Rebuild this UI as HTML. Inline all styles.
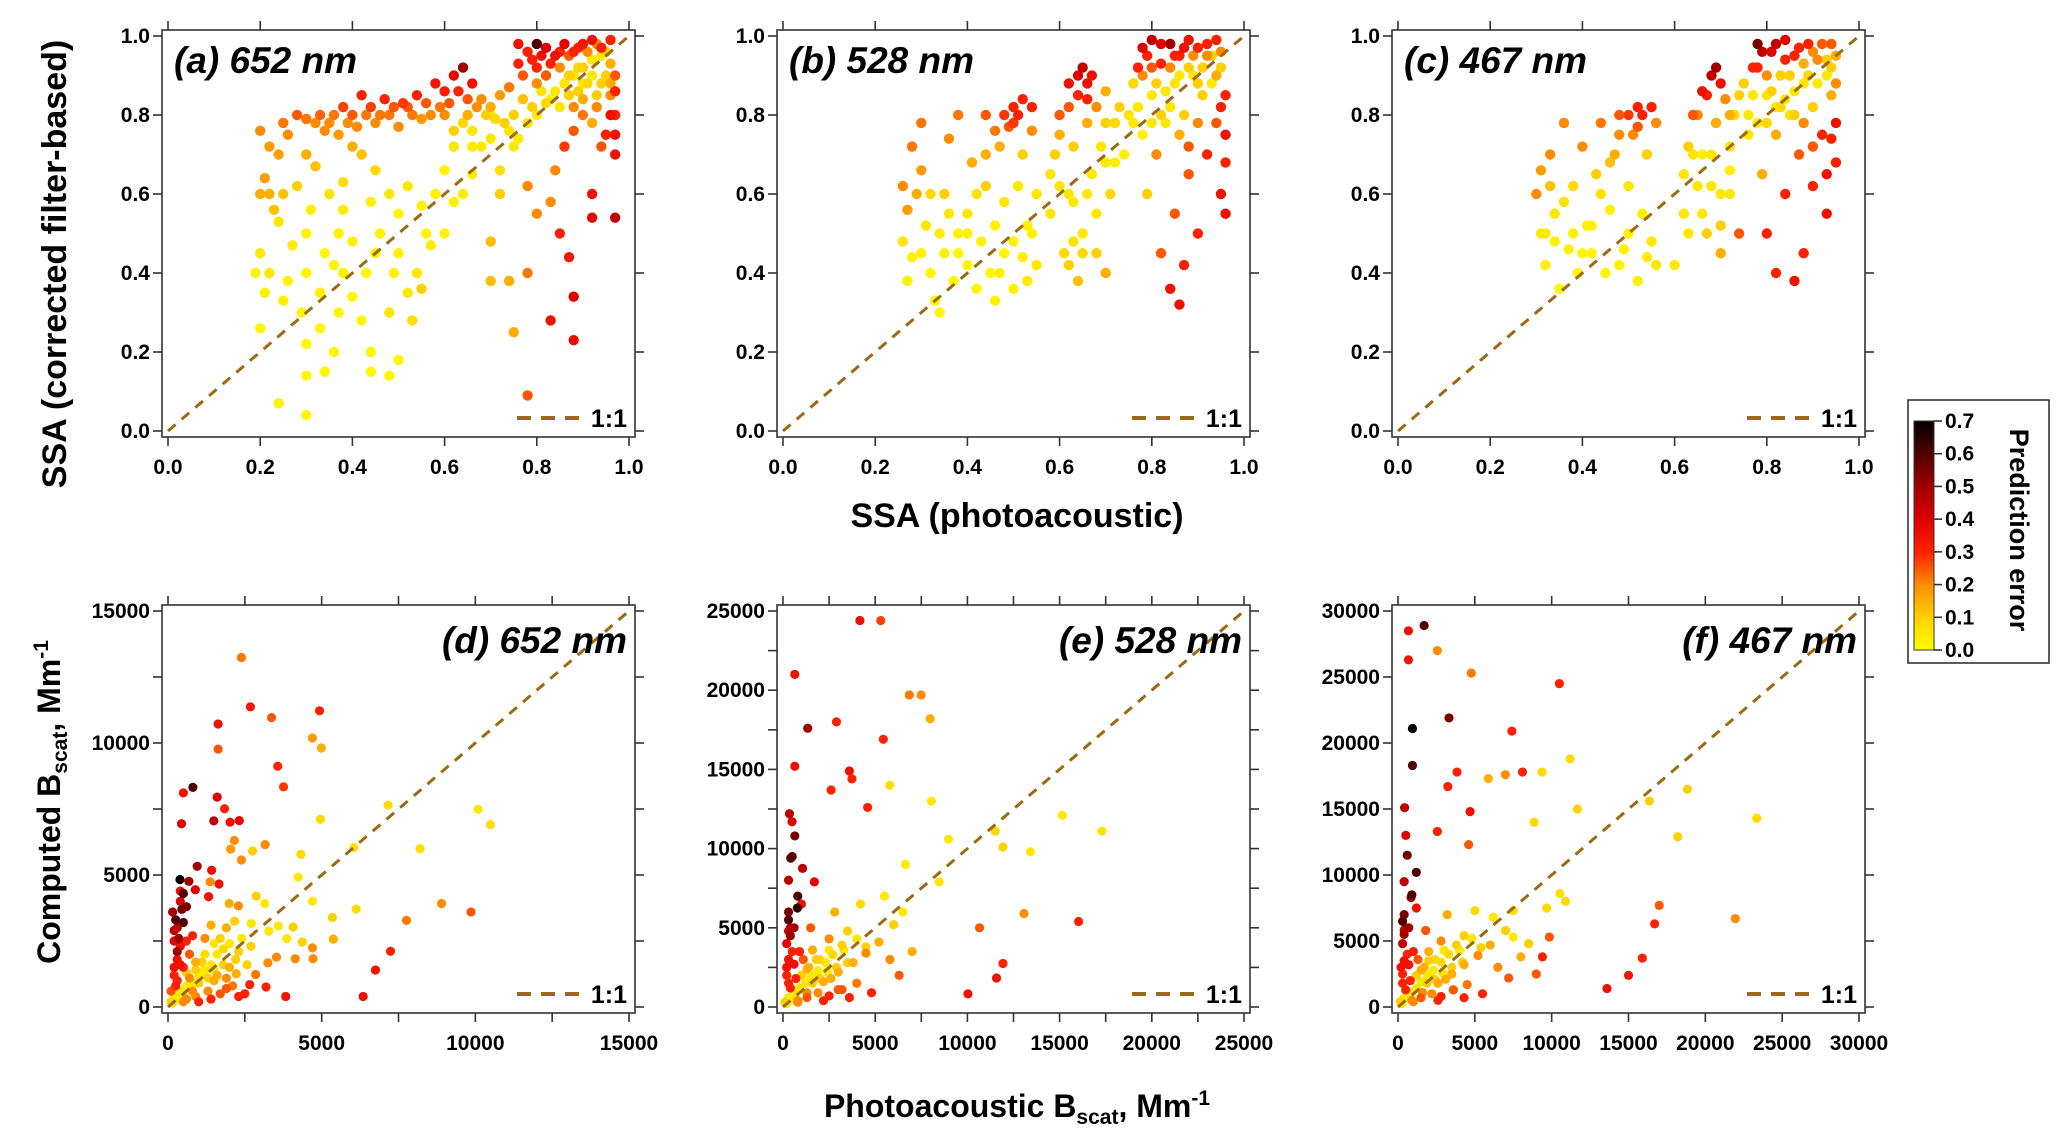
<!DOCTYPE html>
<html><head><meta charset="utf-8"><style>
html,body{margin:0;padding:0;background:#fff}
svg{display:block}
text{font-family:"Liberation Sans",sans-serif}
.tk{font-family:"Liberation Sans Narrow","Liberation Sans",sans-serif;font-weight:bold;font-size:21px;fill:#000}
</style></head><body>
<svg id="fig" width="2067" height="1142" viewBox="0 0 2067 1142" xmlns="http://www.w3.org/2000/svg"></svg>
<script>
// ---- data (x, y, prediction error) ----
const panelA_points=[[0.2,0.76,.2],[0.22,0.72,.18],[0.25,0.78,.22],[0.28,0.8,.25],[0.3,0.79,.22],[0.33,0.8,.24],[0.35,0.78,.2],[0.38,0.82,.27],[0.4,0.8,.25],[0.42,0.85,.3],[0.44,0.82,.27],[0.45,0.78,.2],[0.47,0.84,.3],[0.48,0.8,.22],[0.5,0.77,.2],[0.52,0.82,.25],[0.54,0.85,.3],[0.56,0.83,.25],[0.58,0.88,.33],[0.6,0.86,.32],[0.62,0.9,.38],[0.64,0.92,.5],[0.66,0.88,.35],[0.6,0.8,.2],[0.55,0.79,.18],[0.65,0.8,.15],[0.68,0.84,.2],[0.7,0.82,.15],[0.72,0.85,.18],[0.74,0.87,.22],[0.76,0.98,.35],[0.78,0.96,.3],[0.8,0.98,.6],[0.82,0.97,.4],[0.84,0.95,.35],[0.86,0.98,.38],[0.88,0.96,.3],[0.9,0.98,.33],[0.92,0.99,.35],[0.94,0.97,.3],[0.96,0.99,.3],[0.8,0.92,.3],[0.82,0.9,.25],[0.85,0.92,.2],[0.87,0.9,.1],[0.89,0.92,.08],[0.9,0.88,.05],[0.92,0.94,.05],[0.94,0.95,.05],[0.95,0.9,.1],[0.96,0.85,.2],[0.97,0.8,.3],[0.97,0.75,.35],[0.93,0.82,.2],[0.9,0.8,.22],[0.88,0.76,.25],[0.86,0.72,.28],[0.84,0.66,.2],[0.83,0.58,.2],[0.85,0.5,.3],[0.87,0.44,.33],[0.83,0.28,.35],[0.88,0.34,.4],[0.88,0.23,.37],[0.78,0.09,.25],[0.78,0.4,.22],[0.8,0.55,.2],[0.78,0.62,.2],[0.92,0.6,.35],[0.92,0.54,.38],[0.97,0.54,.45],[0.97,0.7,.35],[0.75,0.25,.15],[0.74,0.38,.15],[0.7,0.38,.13],[0.7,0.48,.13],[0.72,0.6,.1],[0.72,0.66,.07],[0.75,0.72,.05],[0.8,0.8,.04],[0.83,0.84,.03],[0.78,0.78,.05],[0.7,0.8,.05],[0.66,0.76,.05],[0.62,0.72,.05],[0.6,0.66,.03],[0.58,0.6,.03],[0.62,0.58,.03],[0.55,0.57,.03],[0.52,0.62,.05],[0.56,0.5,.03],[0.5,0.55,.02],[0.48,0.6,.05],[0.45,0.66,.08],[0.42,0.7,.12],[0.4,0.72,.15],[0.38,0.63,.08],[0.35,0.6,.06],[0.32,0.67,.12],[0.3,0.7,.15],[0.28,0.62,.1],[0.25,0.6,.12],[0.22,0.6,.15],[0.2,0.6,.15],[0.2,0.45,.05],[0.19,0.4,.03],[0.21,0.35,.03],[0.22,0.4,.05],[0.24,0.53,.05],[0.25,0.33,.03],[0.2,0.26,.02],[0.24,0.07,.03],[0.3,0.04,.02],[0.3,0.14,.02],[0.3,0.22,.02],[0.29,0.3,.02],[0.3,0.4,.02],[0.3,0.5,.03],[0.31,0.56,.03],[0.33,0.26,.02],[0.34,0.15,.02],[0.36,0.2,.02],[0.37,0.3,.02],[0.36,0.42,.02],[0.37,0.5,.03],[0.38,0.56,.04],[0.34,0.45,.02],[0.4,0.34,.02],[0.42,0.28,.02],[0.44,0.2,.02],[0.44,0.15,.02],[0.43,0.4,.02],[0.45,0.45,.03],[0.44,0.58,.03],[0.46,0.5,.03],[0.48,0.14,.02],[0.48,0.3,.05],[0.49,0.4,.03],[0.5,0.45,.03],[0.5,0.18,.02],[0.52,0.35,.05],[0.53,0.28,.07],[0.54,0.4,.05],[0.55,0.36,.1],[0.57,0.47,.04],[0.6,0.5,.03],[0.64,0.6,.04],[0.66,0.65,.04],[0.68,0.72,.05],[0.27,0.47,.04],[0.26,0.38,.03],[0.33,0.35,.03],[0.4,0.48,.03],[0.38,0.4,.03]];
const panelA_dense=[[0.76,0.93,.3],[0.77,0.9,.25],[0.79,0.94,.3],[0.81,0.95,.35],[0.83,0.93,.3],[0.85,0.96,.3],[0.87,0.95,.25],[0.89,0.97,.3],[0.91,0.96,.2],[0.93,0.98,.2],[0.95,0.96,.1],[0.96,0.93,.15],[0.97,0.9,.25],[0.97,0.86,.3],[0.96,0.8,.35],[0.95,0.75,.3],[0.94,0.72,.25],[0.92,0.78,.15],[0.91,0.88,.08],[0.9,0.84,.15],[0.89,0.86,.1],[0.88,0.82,.2],[0.87,0.85,.1],[0.86,0.88,.05],[0.84,0.86,.05],[0.82,0.83,.08],[0.81,0.86,.06],[0.8,0.88,.2],[0.79,0.82,.1],[0.77,0.84,.12],[0.75,0.8,.1],[0.73,0.78,.1],[0.71,0.79,.08],[0.69,0.8,.1],[0.67,0.82,.2],[0.65,0.84,.25],[0.63,0.86,.3],[0.61,0.83,.25],[0.59,0.82,.22],[0.57,0.8,.2],[0.53,0.8,.22],[0.51,0.83,.28],[0.49,0.82,.25],[0.46,0.8,.22],[0.43,0.8,.22],[0.41,0.77,.2],[0.39,0.78,.2],[0.37,0.75,.18],[0.36,0.8,.22],[0.34,0.76,.2],[0.32,0.78,.2],[0.26,0.75,.2],[0.24,0.7,.17],[0.21,0.64,.17],[0.23,0.56,.12],[0.62,0.76,.1],[0.64,0.78,.08],[0.66,0.72,.04],[0.7,0.74,.05],[0.74,0.76,.05],[0.76,0.74,.04],[0.85,0.82,.05],[0.88,0.9,.05],[0.92,0.9,.05],[0.94,0.88,.1],[0.96,0.88,.15],[0.93,0.85,.1],[0.9,0.92,.1]];
const panelB_points=[[0.26,0.62,.2],[0.27,0.56,.18],[0.26,0.48,.05],[0.27,0.38,.03],[0.28,0.44,.03],[0.28,0.72,.22],[0.3,0.78,.22],[0.3,0.66,.18],[0.31,0.52,.05],[0.32,0.4,.02],[0.33,0.33,.02],[0.34,0.3,.02],[0.35,0.45,.03],[0.35,0.6,.1],[0.36,0.74,.2],[0.37,0.38,.02],[0.38,0.5,.03],[0.38,0.8,.22],[0.4,0.42,.02],[0.4,0.55,.05],[0.41,0.68,.15],[0.42,0.36,.02],[0.43,0.48,.03],[0.44,0.62,.1],[0.44,0.8,.25],[0.45,0.4,.02],[0.46,0.52,.03],[0.47,0.72,.15],[0.48,0.45,.02],[0.48,0.58,.05],[0.49,0.77,.25],[0.5,0.82,.3],[0.5,0.48,.03],[0.51,0.62,.05],[0.52,0.7,.1],[0.52,0.84,.3],[0.53,0.52,.03],[0.54,0.76,.2],[0.55,0.6,.05],[0.55,0.42,.05],[0.53,0.38,.04],[0.5,0.36,.03],[0.46,0.33,.03],[0.58,0.55,.05],[0.59,0.7,.1],[0.6,0.62,.05],[0.6,0.8,.25],[0.61,0.45,.08],[0.62,0.88,.35],[0.63,0.72,.1],[0.63,0.58,.05],[0.64,0.85,.3],[0.65,0.92,.45],[0.65,0.5,.05],[0.66,0.78,.15],[0.67,0.9,.35],[0.67,0.65,.05],[0.68,0.45,.1],[0.68,0.82,.2],[0.69,0.72,.05],[0.7,0.4,.15],[0.7,0.86,.15],[0.71,0.6,.08],[0.72,0.78,.08],[0.62,0.42,.1],[0.64,0.38,.12],[0.75,0.8,.05],[0.76,0.88,.08],[0.77,0.92,.3],[0.78,0.97,.4],[0.79,0.6,.1],[0.8,0.85,.05],[0.8,0.99,.45],[0.81,0.7,.2],[0.82,0.93,.3],[0.82,0.45,.25],[0.83,0.78,.05],[0.84,0.98,.5],[0.84,0.36,.35],[0.85,0.88,.05],[0.85,0.55,.25],[0.86,0.95,.3],[0.86,0.32,.35],[0.87,0.8,.1],[0.87,0.42,.3],[0.88,0.99,.35],[0.88,0.65,.25],[0.89,0.9,.05],[0.9,0.97,.3],[0.9,0.5,.3],[0.91,0.85,.1],[0.92,0.95,.2],[0.92,0.7,.3],[0.93,0.88,.05],[0.94,0.99,.3],[0.94,0.78,.25],[0.95,0.92,.1],[0.96,0.55,.35],[0.96,0.68,.3],[0.95,0.82,.3],[0.78,0.75,.03],[0.74,0.7,.03],[0.72,0.68,.03]];
const panelB_dense=[[0.78,0.9,.2],[0.79,0.95,.3],[0.8,0.92,.25],[0.81,0.88,.1],[0.82,0.98,.4],[0.83,0.86,.05],[0.84,0.92,.2],[0.85,0.95,.3],[0.86,0.9,.05],[0.87,0.97,.35],[0.88,0.92,.1],[0.89,0.95,.2],[0.9,0.88,.1],[0.91,0.92,.1],[0.92,0.98,.3],[0.93,0.95,.1],[0.94,0.9,.15],[0.95,0.96,.2],[0.96,0.85,.3],[0.96,0.75,.35],[0.95,0.6,.35],[0.9,0.78,.2],[0.88,0.72,.25],[0.86,0.75,.15],[0.84,0.82,.05],[0.82,0.8,.1],[0.8,0.78,.05],[0.77,0.82,.05],[0.76,0.78,.05],[0.73,0.82,.1],[0.7,0.78,.1],[0.66,0.84,.3],[0.64,0.9,.4],[0.66,0.88,.35],[0.62,0.82,.25],[0.6,0.75,.15],[0.58,0.65,.05],[0.62,0.6,.05],[0.66,0.6,.05],[0.68,0.55,.05],[0.7,0.68,.05],[0.65,0.45,.08],[0.63,0.48,.06],[0.5,0.78,.28],[0.51,0.8,.3],[0.48,0.8,.28],[0.46,0.76,.22],[0.44,0.7,.15],[0.42,0.6,.06],[0.4,0.5,.03],[0.38,0.45,.02],[0.36,0.55,.05],[0.34,0.5,.04],[0.32,0.6,.08],[0.3,0.45,.03],[0.29,0.6,.15],[0.47,0.4,.03],[0.52,0.44,.03],[0.54,0.5,.03],[0.54,0.82,.3]];
const panelC_points=[[0.3,0.6,.2],[0.31,0.5,.05],[0.32,0.42,.03],[0.33,0.7,.2],[0.34,0.55,.05],[0.35,0.36,.02],[0.36,0.78,.2],[0.37,0.46,.03],[0.38,0.62,.08],[0.39,0.4,.02],[0.4,0.72,.2],[0.41,0.52,.03],[0.42,0.45,.02],[0.43,0.65,.1],[0.44,0.78,.22],[0.45,0.4,.02],[0.46,0.56,.03],[0.47,0.7,.15],[0.48,0.8,.25],[0.49,0.46,.03],[0.5,0.62,.05],[0.51,0.75,.2],[0.52,0.82,.3],[0.52,0.38,.03],[0.53,0.55,.03],[0.54,0.7,.1],[0.55,0.48,.05],[0.56,0.78,.2],[0.56,0.42,.05],[0.6,0.42,.05],[0.62,0.55,.05],[0.63,0.72,.1],[0.64,0.8,.25],[0.65,0.62,.05],[0.66,0.86,.35],[0.67,0.5,.1],[0.68,0.9,.45],[0.68,0.7,.05],[0.69,0.78,.15],[0.7,0.6,.05],[0.7,0.45,.15],[0.71,0.84,.2],[0.72,0.72,.05],[0.73,0.8,.08],[0.74,0.5,.25],[0.75,0.88,.1],[0.76,0.75,.05],[0.77,0.92,.3],[0.78,0.98,.55],[0.79,0.65,.15],[0.8,0.85,.05],[0.8,0.5,.3],[0.81,0.96,.4],[0.82,0.4,.3],[0.82,0.75,.15],[0.83,0.9,.1],[0.84,0.99,.4],[0.84,0.6,.3],[0.85,0.8,.05],[0.86,0.38,.35],[0.86,0.95,.3],[0.87,0.7,.25],[0.88,0.88,.05],[0.88,0.45,.3],[0.89,0.98,.3],[0.9,0.82,.1],[0.9,0.62,.3],[0.91,0.94,.2],[0.92,0.75,.3],[0.93,0.9,.05],[0.93,0.55,.35],[0.94,0.98,.25],[0.94,0.85,.15],[0.95,0.68,.3],[0.95,0.78,.35],[0.78,0.78,.03],[0.72,0.66,.03],[0.66,0.7,.03]];
const panelC_dense=[[0.78,0.92,.3],[0.79,0.96,.45],[0.8,0.9,.2],[0.81,0.86,.1],[0.82,0.98,.45],[0.83,0.82,.08],[0.84,0.94,.3],[0.85,0.9,.1],[0.86,0.86,.05],[0.87,0.97,.3],[0.88,0.93,.15],[0.89,0.9,.08],[0.9,0.96,.2],[0.91,0.88,.05],[0.92,0.98,.25],[0.93,0.94,.1],[0.94,0.92,.1],[0.95,0.95,.15],[0.95,0.88,.2],[0.94,0.74,.3],[0.93,0.65,.35],[0.9,0.72,.25],[0.88,0.78,.2],[0.86,0.8,.1],[0.84,0.84,.05],[0.82,0.82,.05],[0.8,0.78,.08],[0.77,0.85,.05],[0.76,0.8,.05],[0.74,0.85,.1],[0.72,0.8,.15],[0.7,0.88,.35],[0.69,0.92,.5],[0.67,0.85,.3],[0.65,0.8,.2],[0.64,0.7,.05],[0.62,0.65,.05],[0.63,0.5,.05],[0.66,0.55,.05],[0.68,0.62,.05],[0.72,0.6,.05],[0.7,0.52,.1],[0.53,0.8,.3],[0.52,0.77,.25],[0.5,0.8,.28],[0.48,0.75,.2],[0.46,0.68,.12],[0.44,0.6,.06],[0.42,0.52,.03],[0.4,0.45,.02],[0.38,0.5,.03],[0.36,0.58,.06],[0.34,0.48,.03],[0.33,0.62,.12],[0.32,0.5,.04],[0.31,0.66,.18],[0.48,0.42,.03],[0.5,0.5,.03],[0.54,0.44,.04],[0.55,0.82,.3]];
const panelD_points=[[2390,13240,.22],[2680,11370,.33],[4930,11220,.3],[3370,10960,.25],[1630,10720,.35],[4700,10190,.18],[4990,9810,.15],[1630,9770,.25],[3570,9120,.3],[3760,8340,.28],[810,8320,.6],[500,8110,.35],[1600,7950,.4],[7160,7650,.08],[10090,7490,.05],[10490,6910,.07],[4960,7110,.08],[1840,7510,.3],[1490,7050,.45],[440,6940,.4],[2020,7000,.35],[2320,7060,.38],[2160,6310,.2],[3160,6150,.2],[2040,5980,.18],[2750,5910,.1],[4320,5780,.08],[6050,6040,.07],[8200,6000,.07],[2390,5570,.2],[950,5330,.5],[4240,4920,.05],[1420,5180,.35],[390,4830,.7],[680,4760,.5],[1660,4660,.35],[1370,4740,.2],[890,4440,.4],[400,4390,.35],[1320,4180,.35],[2870,4200,.1],[4700,4010,.05],[8900,3920,.2],[9860,3600,.25],[6120,3710,.08],[5350,3390,.1],[7760,3280,.22],[7240,2110,.3],[6750,1400,.35],[6350,400,.35],[3830,400,.33],[5380,2570,.15],[4720,1830,.2],[4070,3030,.1],[3590,3070,.05],[3150,3920,.05],[2710,3160,.05],[1990,3920,.15],[2290,3830,.2],[3280,2870,.05],[3870,2590,.05],[4370,2460,.1],[4700,2240,.2],[4140,1830,.2],[2570,1600,.1],[3530,1890,.2],[3250,1670,.2],[2220,1260,.15],[2850,1230,.22],[1900,1090,.2],[3190,760,.3],[2660,850,.3],[2170,3250,.1],[100,200,.1],[200,400,.05],[300,300,.05],[400,600,.05],[500,500,.05],[600,800,.05],[800,900,.05],[1000,1200,.05],[1200,1400,.05],[1400,1600,.05],[1600,2000,.05],[1800,2200,.08],[1100,1700,.1],[900,1400,.1],[200,1200,.3],[300,1800,.35],[200,2500,.4],[300,3000,.45],[150,3600,.5],[400,2300,.35],[500,1500,.3],[250,800,.3],[100,600,.25],[600,300,.2],[900,400,.2],[1300,600,.2],[1700,500,.25],[2100,800,.22],[2500,500,.3],[1000,200,.3],[1500,1000,.15],[2000,1500,.15],[700,1100,.2],[400,4000,.4],[500,3200,.6],[300,2100,.5],[1200,2600,.2],[1700,2600,.1],[1400,3100,.15],[2300,2100,.1],[1900,3000,.15],[800,2700,.3],[600,3800,.55]];
const panelD_dense=[[300,1000,.3],[200,1500,.35],[350,2600,.5],[250,3300,.6],[450,3700,.55],[600,2500,.3],[700,2000,.25],[900,1700,.15],[1100,1300,.05],[1300,1100,.1],[1500,1400,.05],[1800,1600,.1],[2200,1800,.1],[1600,1200,.15],[1900,700,.25],[2300,400,.3],[1400,300,.3],[800,600,.2],[500,200,.2],[150,150,.05],[600,1300,.1],[1000,900,.1],[1200,2000,.08],[1500,2400,.05],[2000,2400,.05],[2400,2600,.05],[2700,2300,.1],[400,1600,.35],[200,2900,.45],[500,4300,.6]];
const panelE_points=[[4170,24400,.35],[5300,24400,.27],[640,21000,.35],[1340,17600,.5],[2900,18000,.3],[5440,16900,.3],[6850,19700,.22],[7490,19700,.2],[7980,18200,.15],[8050,13000,.05],[5790,14000,.07],[3600,14900,.35],[3740,14400,.3],[640,15200,.35],[490,11700,.4],[350,12200,.45],[2610,13700,.3],[4590,12600,.3],[11510,11100,.08],[15150,12100,.05],[17300,11100,.06],[13420,9800,.05],[11930,10100,.1],[8970,10600,.05],[6640,9000,.05],[8470,7900,.05],[10660,5000,.25],[13070,5900,.2],[16030,5400,.3],[11930,2750,.3],[11580,1830,.35],[10030,830,.35],[640,10800,.55],[420,9400,.6],[1060,8750,.45],[780,6250,.65],[1700,7900,.4],[100,300,.1],[300,600,.05],[500,500,.05],[700,900,.05],[900,1200,.05],[1200,1500,.05],[1500,1900,.05],[1900,2300,.05],[2300,2800,.05],[2700,3300,.08],[3200,3900,.1],[3500,4800,.1],[1800,3000,.1],[1300,2400,.15],[200,2000,.3],[300,3000,.35],[200,4000,.4],[400,5000,.45],[300,6000,.55],[500,3500,.3],[700,1800,.3],[400,1200,.3],[800,400,.2],[1300,600,.25],[1900,900,.2],[2500,700,.3],[3200,1100,.25],[4000,1500,.22],[4800,900,.3],[2200,1600,.15],[3000,2200,.15],[3800,2800,.15],[4500,3400,.2],[5200,4100,.15],[6000,5200,.1],[2500,4300,.2],[1500,5000,.25],[1000,6500,.35],[2800,6000,.15],[4200,6500,.08],[5500,7000,.05],[6500,6000,.05],[5800,3000,.2],[7000,3500,.15],[6300,2000,.25],[1600,3600,.15]];
const panelE_dense=[[300,1500,.3],[200,2500,.35],[400,4500,.5],[300,5500,.6],[600,5000,.5],[900,3500,.3],[1100,3000,.25],[1400,2500,.15],[1700,2000,.05],[2000,1800,.1],[2400,2200,.05],[2900,2500,.1],[3500,2800,.1],[2600,1800,.15],[3000,1100,.25],[3600,600,.3],[2200,400,.3],[1300,900,.2],[800,300,.2],[200,200,.05],[1000,2000,.1],[1600,1500,.1],[2000,3000,.08],[2500,3600,.05],[3300,3600,.05],[4000,4300,.05],[4500,3800,.1],[600,2700,.35],[300,4800,.45],[800,7000,.6],[500,9500,.55],[300,8000,.45]];
const panelF_points=[[1700,28900,.6],[680,28500,.35],[680,26300,.33],[2560,27000,.2],[4770,25300,.22],[3320,21900,.55],[10500,24500,.3],[11200,18800,.08],[7410,20900,.3],[9370,17800,.08],[18830,16500,.1],[11680,15000,.1],[940,21100,.7],[940,18300,.6],[3840,17800,.3],[6990,17600,.2],[8100,17800,.3],[5880,17300,.15],[4690,14800,.35],[18200,12900,.1],[23350,14300,.08],[16360,15600,.1],[3240,16700,.3],[430,15100,.45],[510,13000,.4],[1190,10200,.6],[850,8300,.5],[2560,13300,.3],[4600,12300,.25],[8860,14000,.08],[10530,8600,.07],[10900,8000,.08],[9680,7500,.08],[7500,7300,.07],[21950,6700,.2],[17000,7700,.25],[16700,6300,.3],[15900,3700,.3],[15000,2400,.33],[13600,1400,.35],[9850,5300,.25],[9400,3800,.3],[150,400,.1],[400,700,.05],[700,700,.05],[900,1100,.05],[1200,1400,.05],[1500,1900,.05],[1900,2300,.05],[2300,2800,.05],[2800,3400,.08],[3300,4000,.08],[3800,4700,.1],[4300,5400,.1],[2000,3500,.1],[1500,2800,.15],[300,2500,.3],[400,3500,.35],[300,4800,.45],[500,6000,.45],[400,7000,.55],[600,4000,.3],[800,2000,.3],[500,1300,.3],[900,500,.2],[1500,700,.25],[2200,1000,.2],[2800,800,.3],[3600,1300,.25],[4500,1700,.22],[5500,1000,.3],[2600,1800,.15],[3500,2500,.15],[4300,3200,.15],[5200,3900,.2],[6000,4700,.15],[7000,5800,.1],[2800,5000,.2],[1800,5800,.25],[1200,7500,.35],[3200,7000,.15],[5000,7300,.08],[6200,6800,.05],[7500,5300,.05],[6500,3000,.2],[8000,3800,.15],[7200,2200,.25],[8500,4800,.1],[9000,2500,.25],[2000,4200,.15]];
const panelF_dense=[[300,1800,.3],[200,3000,.35],[400,5500,.5],[300,6500,.6],[700,6000,.5],[1000,4200,.3],[1300,3600,.25],[1700,3000,.15],[2000,2400,.05],[2400,2100,.1],[2900,2600,.05],[3500,3000,.1],[4200,3400,.1],[3100,2100,.15],[3600,1300,.25],[4300,700,.3],[2600,500,.3],[1600,1100,.2],[1000,400,.2],[250,250,.05],[1200,2400,.1],[1900,1800,.1],[2400,3600,.08],[3000,4300,.05],[4000,4300,.05],[4800,5200,.05],[5400,4500,.1],[700,3200,.35],[400,5800,.45],[900,8500,.6],[600,11500,.55],[400,9500,.45]];
const topTicks=[0,0.2,0.4,0.6,0.8,1.0];
const topTickLabels=["0.0","0.2","0.4","0.6","0.8","1.0"];
const dTickLabels=["0","5000","10000","15000"];
const eTickLabels=["0","5000","10000","15000","20000","25000"];
const fTickLabels=["0","5000","10000","15000","20000","25000","30000"];
const cbarTicks=[0,0.1,0.2,0.3,0.4,0.5,0.6,0.7];
const panelLabels=["(a) 652 nm","(b) 528 nm","(c) 467 nm","(d) 652 nm","(e) 528 nm","(f) 467 nm"];

const NS="http://www.w3.org/2000/svg";
const svg=document.getElementById('fig');
function mk(tag,attrs,parent){const e=document.createElementNS(NS,tag);for(const k in attrs)e.setAttribute(k,attrs[k]);(parent||svg).appendChild(e);return e;}
const stops=[[0,[255,255,0]],[0.1,[255,208,0]],[0.2,[255,140,0]],[0.3,[255,32,0]],[0.4,[224,0,0]],[0.5,[160,0,0]],[0.6,[80,0,0]],[0.7,[0,0,0]]];
function cmap(v){v=Math.max(0,Math.min(0.7,v));for(let i=0;i<stops.length-1;i++){const a=stops[i],b=stops[i+1];if(v<=b[0]){const t=(v-a[0])/(b[0]-a[0]);const c=a[1].map((x,j)=>Math.round(x+(b[1][j]-x)*t));return `rgb(${c[0]},${c[1]},${c[2]})`;}}return 'rgb(0,0,0)';}

const BR="#9b6a12";
function panel(o){
  const g=mk('g',{});
  
  
  const sx=v=>o.x0+(v-o.xmin)/(o.xmax-o.xmin)*(o.x1-o.x0);
  const sy=v=>o.y0-(v-o.ymin)/(o.ymax-o.ymin)*(o.y0-o.y1);
  const fl=o.x0-6,fr=o.x1+6,ft=o.y1-6,fb=o.y0+6;
  const fr_=mk('rect',{x:fl,y:ft,width:fr-fl,height:fb-ft,fill:'#fff',stroke:'#333','stroke-width':1.6},g);
  
  
  for(let v=o.xmin;v<=o.xmax+1e-9;v+=o.tstep){const x=sx(v);mk('line',{x1:x,x2:x,y1:fb,y2:fb+9,stroke:'#333','stroke-width':1.6},g);mk('line',{x1:x,x2:x,y1:ft,y2:ft-9,stroke:'#333','stroke-width':1.6},g);}
  for(let v=o.ymin;v<=o.ymax+1e-9;v+=o.tstep){const y=sy(v);mk('line',{x1:fl,x2:fl-9,y1:y,y2:y,stroke:'#333','stroke-width':1.6},g);mk('line',{x1:fr,x2:fr+9,y1:y,y2:y,stroke:'#333','stroke-width':1.6},g);}
  o.labels.forEach((s,i)=>{const v=o.lvals[i];
    const tx=mk('text',{x:sx(v),y:fb+37,'text-anchor':'middle',class:'tk'},g);tx.textContent=s;
    
    
    const ty=mk('text',{x:fl-12,y:sy(v)+7,'text-anchor':'end',class:'tk'},g);ty.textContent=s;
    
    
  });
  const pts=o.pts.slice().sort((a,b)=>a[2]-b[2]);
  pts.forEach(p=>{const c=mk('circle',{cx:sx(p[0]),cy:sy(p[1]),r:o.r,fill:cmap(p[2])},g);
    
    });
  const ln=mk('line',{x1:sx(o.xmin),y1:sy(o.ymin),x2:sx(o.xmax),y2:sy(o.ymax),stroke:BR,'stroke-width':3,'stroke-dasharray':'10,8'},g);
  
  
  const lg=mk('g',{},g);
  
  
  mk('line',{x1:fr-118,x2:fr-50,y1:fb-19,y2:fb-19,stroke:BR,'stroke-width':4,'stroke-dasharray':'14,10'},lg);
  const lt=mk('text',{x:fr-8,y:fb-10,'text-anchor':'end','font-size':25,'font-weight':'bold','font-family':'Liberation Sans Narrow, Liberation Sans, sans-serif'},lg);lt.textContent='1:1';
  const pl=mk('text',{x:o.top?fl+12:fr-8,y:o.top?ft+43:ft+48,'text-anchor':o.top?'start':'end','font-size':37,'font-weight':'bold','font-style':'italic'},g);
  pl.textContent=o.label;
  
  
}
const X0=[168,783,1398],W=461;
const tops=[panelA_points.concat(panelA_dense),panelB_points.concat(panelB_dense),panelC_points.concat(panelC_dense)];
const names=['panel-a-652nm','panel-b-528nm','panel-c-467nm','panel-d-652nm','panel-e-528nm','panel-f-467nm'];
for(let i=0;i<3;i++){panel({name:names[i],x0:X0[i],x1:X0[i]+W,y1:36,y0:431,xmin:0,xmax:1,ymin:0,ymax:1,tstep:0.2,labels:topTickLabels,lvals:topTicks,pts:tops[i],label:panelLabels[i],top:true,r:5.2});}
const bMax=[15000,25000,30000],bLab=[dTickLabels,eTickLabels,fTickLabels],bStep=[2500,2500,5000],bots=[panelD_points.concat(panelD_dense),panelE_points.concat(panelE_dense),panelF_points.concat(panelF_dense)];
for(let i=0;i<3;i++){panel({name:names[i+3],x0:X0[i],x1:X0[i]+W,y1:611,y0:1007,xmin:0,xmax:bMax[i],ymin:0,ymax:bMax[i],tstep:bStep[i],labels:bLab[i],lvals:bLab[i].map(Number),pts:bots[i],label:panelLabels[i+3],top:false,r:4.6});}

// colorbar
const CX=-8;
const cb=mk('g',{transform:`translate(${CX},0)`});


mk('rect',{x:1916,y:400,width:141,height:263,fill:'#fff',stroke:'#333','stroke-width':1.6},cb);
const defs=mk('defs',{});
const lg2=mk('linearGradient',{id:'cg',x1:0,y1:1,x2:0,y2:0},defs);
stops.forEach(s=>mk('stop',{offset:(s[0]/0.7),'stop-color':`rgb(${s[1].join(',')})`},lg2));
const cbTop=421,cbBot=650;
mk('rect',{x:1922,y:cbTop,width:20,height:cbBot-cbTop,fill:'url(#cg)',stroke:'#333','stroke-width':1},cb);
cbarTicks.forEach(v=>{const y=cbBot-v/0.7*(cbBot-cbTop);mk('line',{x1:1942,x2:1950,y1:y,y2:y,stroke:'#333','stroke-width':1.6},cb);
  const t=mk('text',{x:1953,y:y+7,class:'tk'},cb);t.textContent=v.toFixed(1);
  
  });
const ct=mk('text',{x:2018,y:530,'text-anchor':'middle','font-size':27,'font-weight':'bold',transform:'rotate(90 2018 530)'},cb);ct.textContent='Prediction error';



function title(txt,x,y,rot,name,sub,fs){const t=mk('text',{x:x,y:y,'text-anchor':'middle','font-size':fs,'font-weight':'bold'});
  if(rot)t.setAttribute('transform',`rotate(-90 ${x} ${y})`);
  
  
  if(sub){t.innerHTML=txt;}else t.textContent=txt;return t;}
title('SSA (corrected filter-based)',66,264,true,'y-axis-title-top',false,34);
title('SSA (photoacoustic)',1017,527,false,'x-axis-title-top',false,34);
title('Computed B<tspan font-size="21" dy="7">scat</tspan><tspan dy="-7">, Mm</tspan><tspan font-size="21" dy="-12">-1</tspan>',60,802,true,'y-axis-title-bottom',true,32);
title('Photoacoustic B<tspan font-size="21" dy="7">scat</tspan><tspan dy="-7">, Mm</tspan><tspan font-size="21" dy="-12">-1</tspan>',1017,1117,false,'x-axis-title-bottom',true,32);
</script>
</body></html>
